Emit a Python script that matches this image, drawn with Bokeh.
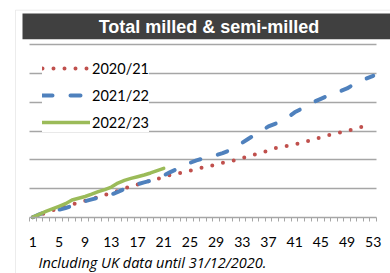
from bokeh.plotting import figure
from bokeh.models import FixedTicker, Range1d, Label, BoxAnnotation
from bokeh.embed import file_html
from bokeh.resources import INLINE

# ---- data (weekly cumulative; gridline step = 1) ----
weeks_2020_21 = list(range(1, 53))
values_2020_21 = [0.00, 0.07, 0.15, 0.24, 0.31, 0.38, 0.44, 0.51, 0.57, 0.64,
                  0.70, 0.77, 0.84, 0.92, 1.00, 1.08, 1.14, 1.21, 1.27, 1.33,
                  1.39, 1.47, 1.52, 1.56, 1.62, 1.68, 1.73, 1.78, 1.83, 1.89,
                  1.94, 1.99, 2.06, 2.13, 2.19, 2.25, 2.32, 2.40, 2.45, 2.49,
                  2.53, 2.59, 2.65, 2.72, 2.78, 2.84, 2.90, 2.95, 3.00, 3.07,
                  3.13, 3.20]

weeks_2021_22 = list(range(1, 54))
values_2021_22 = [0.00, 0.10, 0.18, 0.22, 0.26, 0.32, 0.39, 0.47, 0.56, 0.62,
                  0.68, 0.74, 0.79, 0.88, 0.98, 1.08, 1.15, 1.21, 1.27, 1.35,
                  1.45, 1.57, 1.67, 1.78, 1.89, 1.98, 2.04, 2.10, 2.16, 2.23,
                  2.32, 2.44, 2.59, 2.74, 2.88, 3.02, 3.16, 3.25, 3.33, 3.48,
                  3.65, 3.77, 3.90, 4.02, 4.12, 4.22, 4.30, 4.39, 4.48, 4.62,
                  4.74, 4.83, 4.92]

weeks_2022_23 = list(range(1, 22))
values_2022_23 = [0.00, 0.10, 0.20, 0.29, 0.38, 0.47, 0.60, 0.66, 0.72, 0.80,
                  0.89, 0.96, 1.05, 1.19, 1.28, 1.35, 1.41, 1.47, 1.54, 1.62,
                  1.70]

series_names = ["2020/21", "2021/22", "2022/23"]
x_tick_values = [1, 5, 9, 13, 17, 21, 25, 29, 33, 37, 41, 45, 49, 53]
grid_values = [1, 2, 3, 4, 5, 6]
title_text = "Total milled & semi-milled"
note_text = "Including UK data until 31/12/2020."

GRID = "#a6a6a6"

# frame covers (14..390, 8..273); ranges chosen so that week 0.5..53.5 -> x 29..376
# and value 0..6 -> y 216.7..44.3
p = figure(width=390, height=273, output_backend="svg", toolbar_location=None,
           title_location=None, y_axis_location=None,
           x_range=Range1d(-1.791, 55.638), y_range=Range1d(-1.959, 7.263),
           min_border_left=14, min_border_right=0,
           min_border_top=8, min_border_bottom=0)
p.outline_line_color = None
p.background_fill_color = "white"
p.border_fill_color = "white"

# decorations (screen units, relative to frame bottom-left)
p.add_layout(BoxAnnotation(left=1, right=420, top=263.3, bottom=-60,
                           left_units="screen", right_units="screen",
                           top_units="screen", bottom_units="screen",
                           fill_alpha=0, line_color="#bfbfbf", line_width=1,
                           level="underlay"))
p.add_layout(BoxAnnotation(left=8, right=420, top=260, bottom=234.3,
                           left_units="screen", right_units="screen",
                           top_units="screen", bottom_units="screen",
                           fill_color="#404040", fill_alpha=1, line_color=None))
p.add_layout(Label(x=194.5, y=246.7, x_units="screen", y_units="screen",
                   text=title_text, text_align="center", text_baseline="middle",
                   text_color="white", text_font="Liberation Sans",
                   text_font_style="bold", text_font_size="18px"))
p.add_layout(Label(x=24, y=11.5, x_units="screen", y_units="screen",
                   text=note_text, text_align="left", text_baseline="middle",
                   text_color="black", text_font="Open Sans",
                   text_font_style="italic", text_font_size="14.5px"))

# grid
p.xgrid.visible = False
p.ygrid.ticker = FixedTicker(ticks=grid_values)
p.ygrid.cross_bounds = (0.5, 53.5)
p.ygrid.grid_line_color = GRID
p.ygrid.grid_line_width = 1.5

# x axis drawn at value 0
xa = p.xaxis[0]
xa.fixed_location = 0
xa.bounds = (0.5, 53.5)
xa.ticker = FixedTicker(ticks=x_tick_values,
                        minor_ticks=[w - 0.5 for w in range(1, 55)])
xa.axis_line_color = GRID
xa.axis_line_width = 1.5
xa.major_tick_out = 0
xa.major_tick_in = 0
xa.minor_tick_out = 4
xa.minor_tick_in = 0
xa.minor_tick_line_color = GRID
xa.major_label_text_font = "Lato"
xa.major_label_text_font_size = "14px"
xa.major_label_text_color = "black"
xa.major_label_standoff = 16

# series
p.line(weeks_2020_21, values_2020_21, color="#C0504D", line_width=4,
       line_dash="0 11", line_cap="round", legend_label=series_names[0])
p.line(weeks_2021_22, values_2021_22, color="#4F81BD", line_width=4,
       line_dash="10 18", line_cap="round", legend_label=series_names[1])
p.line(weeks_2022_23, values_2022_23, color="#9BBB59", line_width=3.5,
       line_cap="round", line_join="round", legend_label=series_names[2])

lg = p.legend[0]
lg.location = (28, 141)
lg.margin = 0
lg.padding = 12
lg.spacing = 7
lg.glyph_width = 48
lg.glyph_height = 20
lg.label_height = 20
lg.label_standoff = 2
lg.label_text_font = "Lato"
lg.label_text_font_size = "14.5px"
lg.label_text_color = "black"
lg.border_line_color = None
lg.background_fill_color = "white"
lg.background_fill_alpha = 1

open("out.html", "w").write(file_html(p, INLINE))
